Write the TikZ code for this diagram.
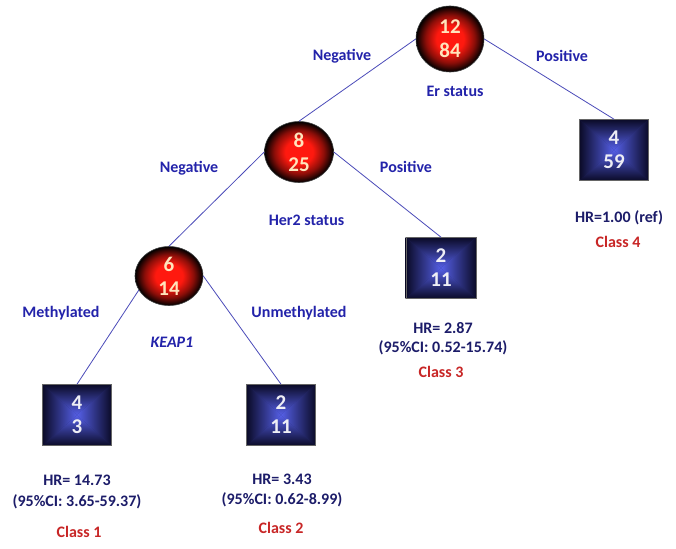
\documentclass[tikz,border=0pt]{standalone}
\usepackage{fontspec}
\setmainfont{Carlito}
\usetikzlibrary{shapes.geometric}
\pgfdeclarelayer{background}
\pgfsetlayers{background,main}
\definecolor{ballred}{RGB}{255,25,15}
\definecolor{sqdark}{RGB}{10,10,38}
\definecolor{sqlight}{RGB}{85,95,230}
\definecolor{lblue}{RGB}{35,35,170}
\definecolor{hrnavy}{RGB}{28,28,105}
\definecolor{clsred}{RGB}{200,38,38}
\definecolor{linecol}{RGB}{75,75,185}
\definecolor{peach}{RGB}{255,228,188}
\definecolor{numwhite}{RGB}{238,238,245}
\pgfdeclareradialshading{redball}{\pgfpoint{0bp}{0bp}}{color(0bp)=(ballred); color(10bp)=(ballred); color(18bp)=(ballred!55!black); color(23bp)=(ballred!15!black); color(25bp)=(black); color(50bp)=(black)}
\newcommand{\sqshade}[1]{%
  \fill[sqlight!35!sqdark] (#1.north west) rectangle (#1.south east);
  \begin{scope}\clip (#1.north west) -- (#1.north east) -- (#1.center) -- cycle;
    \shade[top color=sqdark, bottom color=sqlight] (#1.north west) rectangle (#1.east);\end{scope}
  \begin{scope}\clip (#1.south west) -- (#1.south east) -- (#1.center) -- cycle;
    \shade[top color=sqlight, bottom color=sqdark] (#1.west) rectangle (#1.south east);\end{scope}
  \begin{scope}\clip (#1.north west) -- (#1.south west) -- (#1.center) -- cycle;
    \shade[left color=sqdark, right color=sqlight] (#1.south west) rectangle (#1.north);\end{scope}
  \begin{scope}\clip (#1.north east) -- (#1.south east) -- (#1.center) -- cycle;
    \shade[left color=sqlight, right color=sqdark] (#1.south) rectangle (#1.north east);\end{scope}}
\tikzset{
  redell/.style={ellipse, draw=black!75, line width=0.6pt, shade, shading=redball, inner sep=0pt,
    minimum width=69pt, minimum height=61pt, align=center, text=peach,
    font=\fontsize{21}{24}\selectfont\bfseries},
  bluesq/.style={rectangle, draw=black!60, line width=0.6pt, inner sep=0pt,
    minimum width=69pt, minimum height=61pt, align=center, text=numwhite,
    font=\fontsize{21}{24}\selectfont\bfseries},
  lbl/.style={anchor=base, text=lblue, font=\fontsize{16}{19}\selectfont\bfseries, inner sep=0pt},
  hrtxt/.style={anchor=base, text=hrnavy, font=\fontsize{16}{19}\selectfont\bfseries, inner sep=0pt},
  clstxt/.style={anchor=base, text=clsred, font=\fontsize{16}{19}\selectfont\bfseries, inner sep=0pt},
  conn/.style={draw=linecol, line width=0.8pt}
}
\begin{document}
\begin{tikzpicture}[x=1pt,y=-1pt]
\begin{pgfonlayer}{background}
\fill[white] (0,0) rectangle (676,548);
\end{pgfonlayer}
\useasboundingbox (0,0) rectangle (676,548);

% split nodes
\node[redell, minimum width=68pt, minimum height=66pt] (er) at (450,39) {12\\84};
\node[redell] (her) at (299,152) {8\\25};
\node[redell, minimum width=68pt, minimum height=59pt] (keap) at (169,276) {6\\14};

% leaf nodes
\node[bluesq] (c4) at (614,150) {4\\59};
\node[bluesq, minimum width=70pt] (c3) at (441,268) {2\\11};
\node[bluesq] (c1) at (77,415) {4\\3};
\node[bluesq] (c2) at (281,415) {2\\11};

\begin{pgfonlayer}{background}
\sqshade{c4}\sqshade{c3}\sqshade{c1}\sqshade{c2}
\end{pgfonlayer}

% connectors
\draw[conn] (er.west) -- (her.north);
\draw[conn] (er.east) -- (c4.north);
\draw[conn] (her.west) -- (keap.north);
\draw[conn] (her.east) -- (c3.north);
\draw[conn] (keap.205) -- (c1.north);
\draw[conn] (keap.east) -- (c2.north);

% branch labels
\node[lbl] (l1) at (342,60.5) {Negative};
\node[lbl] (l2) at (562,62) {Positive};
\node[lbl] (l3) at (455,97) {Er status};
\node[lbl] (l4) at (189,172) {Negative};
\node[lbl] (l5) at (406,172.5) {Positive};
\node[lbl] (l6) at (306.5,225) {Her2 status};
\node[lbl] (l7) at (61,317.5) {Methylated};
\node[lbl] (l8) at (299,317.5) {Unmethylated};
\node[lbl, font=\fontsize{16}{19}\selectfont\bfseries\itshape] (l9) at (172,347) {KEAP1};

% outcomes
\node[hrtxt] (h4) at (619,222.5) {HR=1.00 (ref)};
\node[clstxt] (k4) at (618,247.5) {Class 4};
\node[hrtxt] (h3a) at (443,333.5) {HR= 2.87};
\node[hrtxt] (h3b) at (443,352.5) {(95\%CI: 0.52-15.74)};
\node[clstxt] (k3) at (441,377.5) {Class 3};
\node[hrtxt] (h1a) at (77,485.5) {HR= 14.73};
\node[hrtxt] (h1b) at (77,506) {(95\%CI: 3.65-59.37)};
\node[clstxt] (k1) at (79,537.5) {Class 1};
\node[hrtxt] (h2a) at (282,484) {HR= 3.43};
\node[hrtxt] (h2b) at (282,504) {(95\%CI: 0.62-8.99)};
\node[clstxt] (k2) at (281,533.5) {Class 2};
\end{tikzpicture}
\end{document}
